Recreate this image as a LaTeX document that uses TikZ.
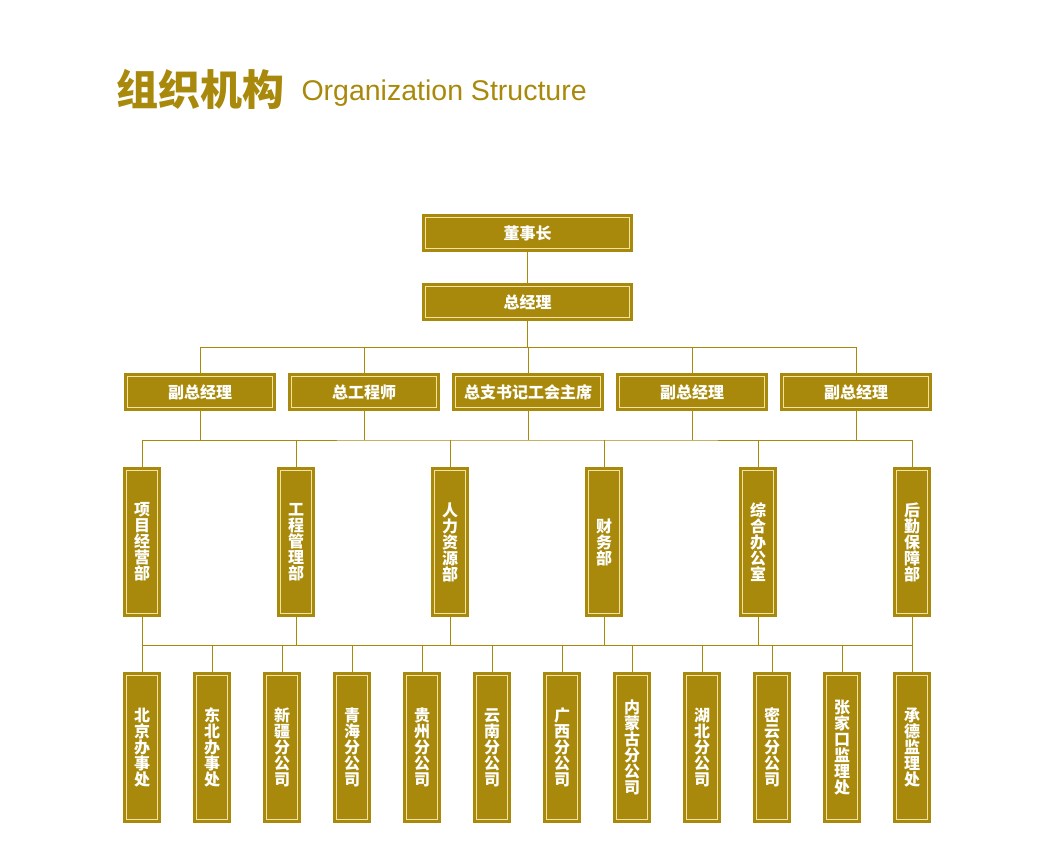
\documentclass[tikz,border=0pt]{standalone}
\usepackage{fontspec}
\setmainfont{Liberation Sans}
\newfontfamily\cjk{Noto Sans CJK SC}
\usepackage{xcolor}
\usetikzlibrary{positioning}
\definecolor{gold}{HTML}{A8890B}
\definecolor{goldline}{HTML}{F3E3A3}

\begin{document}
\begin{tikzpicture}[x=1pt, y=-1pt,
    box/.style={draw=gold, double=goldline, double distance=1.2pt, line width=2.9pt,
        fill=gold, inner sep=0pt, text=white},
    hbox/.style={box, minimum width=145pt, minimum height=31pt,
        font=\cjk\bfseries\fontsize{16}{16}\selectfont},
    topbox/.style={hbox, minimum width=204pt},
    vbox/.style={box, minimum width=31pt, minimum height=143pt, align=center,
        font=\cjk\bfseries\fontsize{16}{16}\selectfont},
    link/.style={draw=gold, line width=0.9pt}]
    \useasboundingbox (0,0) rectangle (1054,865);

    % 标题
    \node[anchor=base west, text=gold, font=\cjk\bfseries\fontsize{42}{42}\selectfont] (title) at (113,105) {组织机构};
    \node[anchor=base west, text=gold, font=\fontsize{28.5}{28.5}\selectfont] (entitle) at (298,100.5) {Organization Structure};

    % 第一、二层
    \node[topbox] (chairman) at (527.5,233) {董事长};
    \node[topbox] (gm) at (527.5,302) {总经理};

    % 第三层
    \node[hbox] (vp1) at (200,392) {副总经理};
    \node[hbox] (chief) at (364,392) {总工程师};
    \node[hbox] (party) at (528,392) {总支书记工会主席};
    \node[hbox] (vp2) at (692,392) {副总经理};
    \node[hbox] (vp3) at (856,392) {副总经理};

    % 部门
    \foreach \txt [count=\i] in {{项\\目\\经\\营\\部}, {工\\程\\管\\理\\部}, {人\\力\\资\\源\\部},
        {财\\务\\部}, {综\\合\\办\\公\\室}, {后\\勤\\保\\障\\部}}
        \node[vbox] (dept\i) at (-12+154*\i,542) {\txt};

    % 分支机构
    \foreach \txt [count=\i] in {{北\\京\\办\\事\\处}, {东\\北\\办\\事\\处}, {新\\疆\\分\\公\\司},
        {青\\海\\分\\公\\司}, {贵\\州\\分\\公\\司}, {云\\南\\分\\公\\司}, {广\\西\\分\\公\\司},
        {内\\蒙\\古\\分\\公\\司}, {湖\\北\\分\\公\\司}, {密\\云\\分\\公\\司},
        {张\\家\\口\\监\\理\\处}, {承\\德\\监\\理\\处}}
        \node[vbox, minimum height=144pt] (br\i) at (72+70*\i,747.5) {\txt};

    % 连线
    \coordinate (bus1) at (527.5,347);
    \coordinate (bus2) at (527.5,440);
    \coordinate (bus3) at (527.5,645);
    \draw[link] (chairman) -- (gm);
    \foreach \n in {vp1,chief,party,vp2,vp3}
        \draw[link] (gm.south) -- (bus1) -| (\n.north);
    \foreach \n in {vp1,chief,party,vp2,vp3}
        \draw[link] (\n.south) -- (\n.south |- bus2);
    \draw[link] (dept1.north) |- (bus2) -| (dept6.north);
    \foreach \i in {2,...,5}
        \draw[link] (dept\i.north) -- (dept\i.north |- bus2);
    \foreach \i in {1,...,6}
        \draw[link] (dept\i.south) -- (dept\i.south |- bus3);
    \draw[link] (br1.north) |- (bus3) -| (br12.north);
    \foreach \i in {2,...,11}
        \draw[link] (br\i.north) -- (br\i.north |- bus3);
\end{tikzpicture}
\end{document}
